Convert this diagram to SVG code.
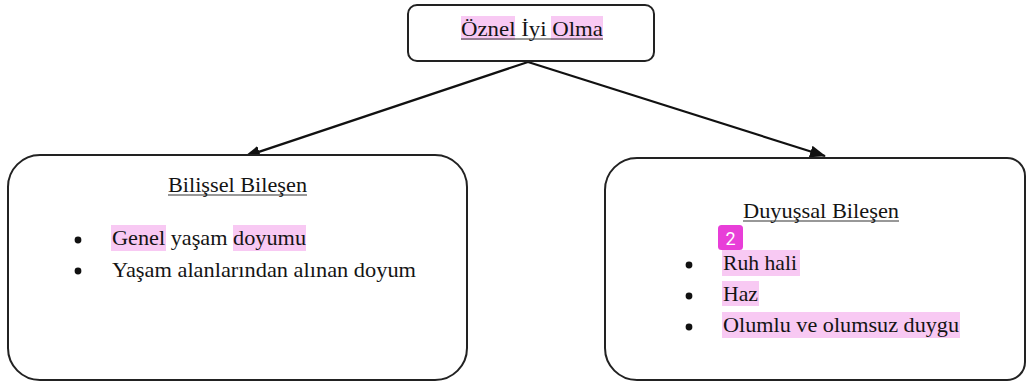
<svg xmlns="http://www.w3.org/2000/svg" width="1026" height="383" viewBox="0 0 1026 383">
<style>
.box{fill:#fff;stroke:#222;stroke-width:2}
.t{font-family:"Liberation Serif","Times New Roman",serif;font-size:21px;fill:#141414}
.ul{stroke:#333;stroke-width:1.2}
.hl{fill:#f8c9f3}
.conn{stroke:#111;stroke-width:2.2;fill:none}
.dot{fill:#111}
</style>
<defs>
<marker id="ah" markerWidth="16" markerHeight="12" refX="15" refY="6" orient="auto" markerUnits="userSpaceOnUse">
<path d="M0,0 L16,6 L0,12 Z" fill="#111"/>
</marker>
</defs>
<rect width="1026" height="383" fill="#fff"/>
<g id="connectors">
<line class="conn" x1="528" y1="62" x2="245" y2="156.5" marker-end="url(#ah)"/>
<line class="conn" x1="528" y1="62" x2="825" y2="156" marker-end="url(#ah)"/>
</g>
<g id="node-top">
<rect class="box" x="408" y="5" width="246" height="56" rx="9"/>
<rect class="hl" x="461" y="16" width="54" height="24"/>
<rect class="hl" x="551" y="16" width="52" height="24"/>
<text class="t" x="461" y="36" textLength="142" lengthAdjust="spacingAndGlyphs">Öznel İyi Olma</text>
<line class="ul" x1="461" y1="39" x2="603" y2="39"/>
</g>
<g id="node-bilissel">
<path class="box" d="M40,155 H435 A32,32 0 0 1 467,187 V348 A32,32 0 0 1 435,380 H40 A32,32 0 0 1 8,348 V187 A32,32 0 0 1 40,155 Z"/>
<text class="t" x="168" y="192" textLength="139" lengthAdjust="spacingAndGlyphs">Bilişsel Bileşen</text>
<line class="ul" x1="168" y1="195" x2="307" y2="195"/>
<rect class="hl" x="111" y="225" width="55" height="26"/>
<rect class="hl" x="233" y="225" width="73" height="26"/>
<circle class="dot" cx="78" cy="240" r="3.4"/>
<text class="t" x="112" y="245" textLength="194" lengthAdjust="spacingAndGlyphs">Genel yaşam doyumu</text>
<circle class="dot" cx="78" cy="271" r="3.4"/>
<text class="t" x="112" y="277" textLength="304" lengthAdjust="spacingAndGlyphs">Yaşam alanlarından alınan doyum</text>
</g>
<g id="node-duyussal">
<path class="box" d="M637,158 H1007 A18,18 0 0 1 1025,176 V362 A18,18 0 0 1 1007,380 H637 A32,32 0 0 1 605,348 V190 A32,32 0 0 1 637,158 Z"/>
<text class="t" x="743" y="218" textLength="156" lengthAdjust="spacingAndGlyphs">Duyuşsal Bileşen</text>
<line class="ul" x1="743" y1="221" x2="899" y2="221"/>
<rect class="hl" x="722" y="250" width="78" height="26"/>
<rect class="hl" x="722" y="281" width="37" height="25"/>
<rect class="hl" x="722" y="312" width="238" height="26"/>
<rect x="718" y="225" width="25" height="25" rx="3.5" fill="#e83ed8"/>
<text x="730.5" y="244.5" text-anchor="middle" font-family="Roboto, 'Liberation Sans', sans-serif" font-size="18" fill="#fff">2</text>
<circle class="dot" cx="689" cy="265" r="3.4"/>
<text class="t" x="723" y="270" textLength="74" lengthAdjust="spacingAndGlyphs">Ruh hali</text>
<circle class="dot" cx="689" cy="296" r="3.4"/>
<text class="t" x="723" y="301" textLength="35" lengthAdjust="spacingAndGlyphs">Haz</text>
<circle class="dot" cx="689" cy="327" r="3.4"/>
<text class="t" x="723" y="332" textLength="236" lengthAdjust="spacingAndGlyphs">Olumlu ve olumsuz duygu</text>
</g>
</svg>
